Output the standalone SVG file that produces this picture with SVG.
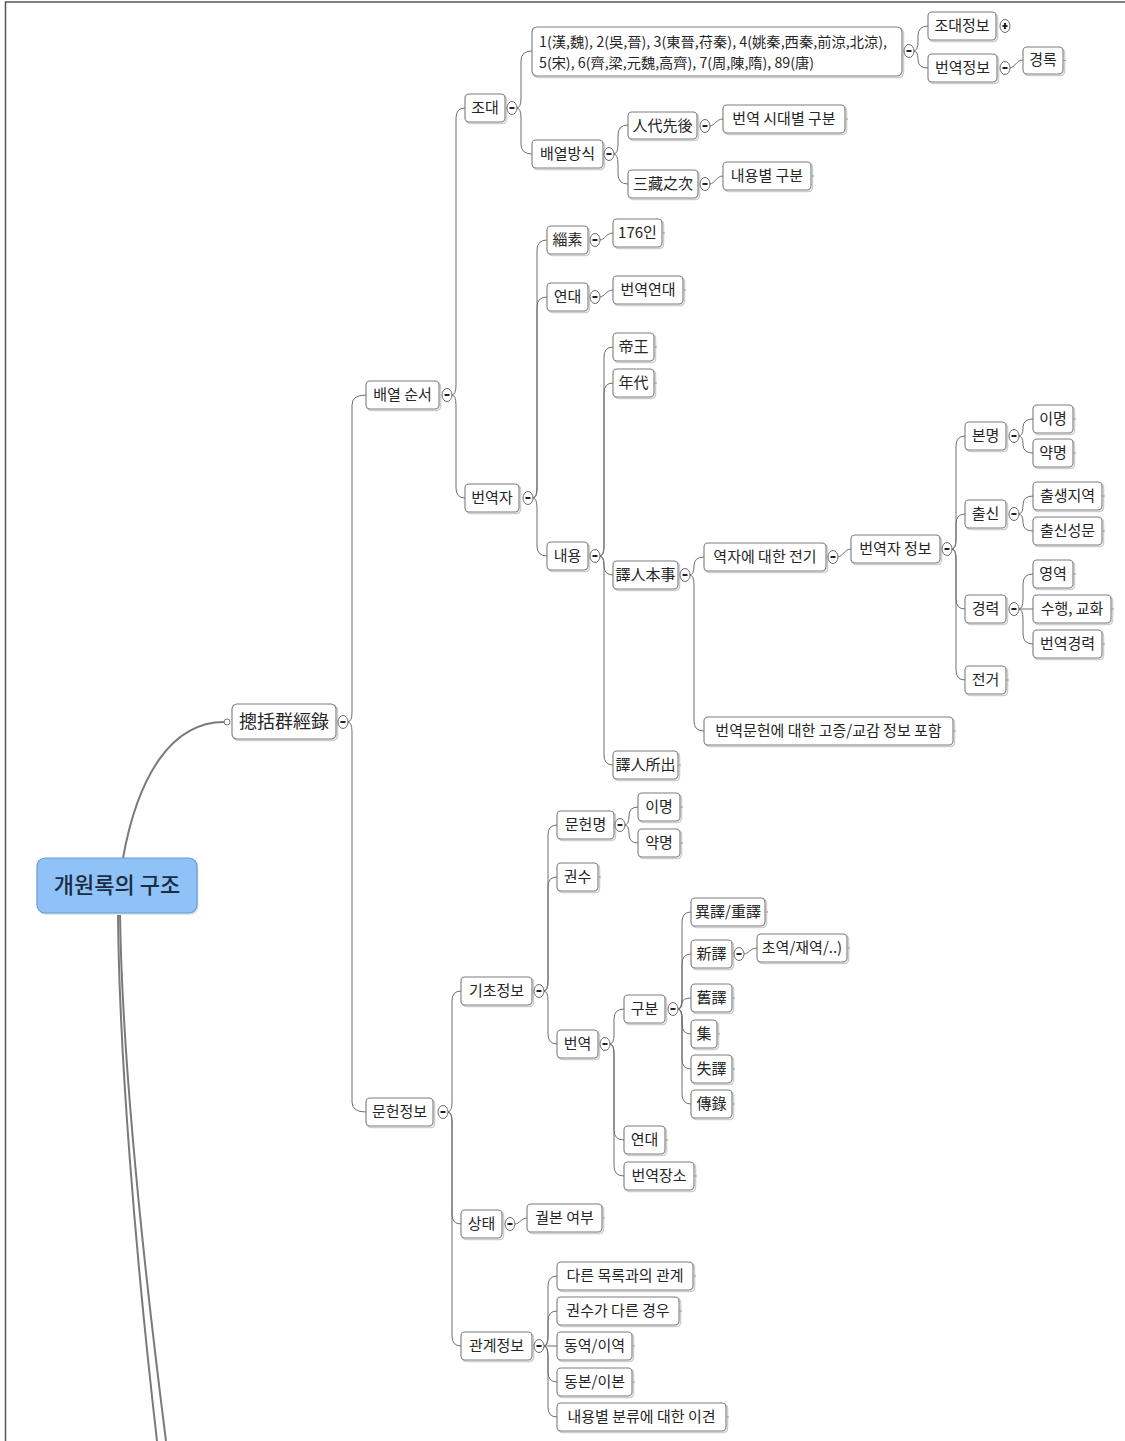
<svg xmlns="http://www.w3.org/2000/svg" width="1125" height="1441" viewBox="0 0 1125 1441">
<style>
.bx{fill:#fff;stroke:#7c7c7c;stroke-width:1.1}
.sh{fill:none;stroke:#cfcfcf;stroke-width:1.6}
.t{font-family:"Noto Sans CJK KR","Noto Sans",sans-serif;font-size:15px;fill:#262626;text-anchor:middle}
.tl{font-family:"Noto Sans CJK KR","Noto Sans",sans-serif;font-size:14px;fill:#262626}
.cc{fill:#fff;stroke:#6a6a6a;stroke-width:1}
.mn{stroke:#222;stroke-width:2}
.tk{stroke:#999;stroke-width:1}
.ln{fill:none;stroke:#6e6e6e;stroke-width:1}
.rl{fill:none;stroke:#7a7a7a;stroke-width:2}
</style>
<rect width="1125" height="1441" fill="#fff"/>
<path d="M5.5 1441 V2 H1125" fill="none" stroke="#555" stroke-width="1.5"/>

<g id="connectors">
<path class="rl" d="M123 858 C138 775 172 722 224 722"/>
<circle cx="227" cy="722" r="3" fill="#fff" stroke="#777" stroke-width="1"/>
<path class="rl" d="M118 913 C119 1050 135 1250 157 1441"/>
<path class="rl" d="M120 913 C122 1060 143 1260 166 1441"/>
<path class="ln" d="M347.5 722 Q352 722 352 712 V405 Q352 395 366 395"/>
<path class="ln" d="M347.5 722 Q352 722 352 732 V1102 Q352 1112 366 1112"/>
<path class="ln" d="M451.5 395 Q456 395 456 385 V118 Q456 108 465 108"/>
<path class="ln" d="M451.5 395 Q456 395 456 405 V488 Q456 498 465 498"/>
<path class="ln" d="M516.5 108 Q521 108 521 98 V61 Q521 51 532 51"/>
<path class="ln" d="M516.5 108 Q521 108 521 118 V144 Q521 154 532 154"/>
<path class="ln" d="M913.5 51 Q918 51 918 41 V36 Q918 26 928 26"/>
<path class="ln" d="M913.5 51 Q918 51 918 59.5 Q918 68 928 68"/>
<path class="ln" d="M1009.5 68 C1015 68 1016 60 1023 60"/>
<path class="ln" d="M613.5 154 Q618 154 618 144 V135 Q618 125 628 125"/>
<path class="ln" d="M613.5 154 Q618 154 618 164 V174 Q618 184 628 184"/>
<path class="ln" d="M709.5 126 C715 126 716 119 723 119"/>
<path class="ln" d="M709.5 184 C715 184 716 176 723 176"/>
<path class="ln" d="M532.5 498 Q537 498 537 488 V250 Q537 240 547 240"/>
<path class="ln" d="M532.5 498 Q537 498 537 488 V307 Q537 297 547 297"/>
<path class="ln" d="M532.5 498 Q537 498 537 508 V546 Q537 556 547 556"/>
<path class="ln" d="M599.5 240 C605 240 606 233 613 233"/>
<path class="ln" d="M599.5 297 C605 297 606 290 613 290"/>
<path class="ln" d="M599.5 556 Q604 556 604 546 V357 Q604 347 613 347"/>
<path class="ln" d="M599.5 556 Q604 556 604 546 V393 Q604 383 613 383"/>
<path class="ln" d="M599.5 556 Q604 556 604 565.5 Q604 575 613 575"/>
<path class="ln" d="M599.5 556 Q604 556 604 566 V755 Q604 765 613 765"/>
<path class="ln" d="M689.5 575 Q694 575 694 566 Q694 557 704 557"/>
<path class="ln" d="M689.5 575 Q694 575 694 585 V721 Q694 731 704 731"/>
<path class="ln" d="M837.5 557 C843 557 844 549 851 549"/>
<path class="ln" d="M951.5 549 Q956 549 956 539 V446 Q956 436 965 436"/>
<path class="ln" d="M951.5 549 Q956 549 956 539 V524 Q956 514 965 514"/>
<path class="ln" d="M951.5 549 Q956 549 956 559 V599 Q956 609 965 609"/>
<path class="ln" d="M951.5 549 Q956 549 956 559 V670 Q956 680 965 680"/>
<path class="ln" d="M1018.5 436 Q1023 436 1023 427.5 Q1023 419 1033 419"/>
<path class="ln" d="M1018.5 436 Q1023 436 1023 444.5 Q1023 453 1033 453"/>
<path class="ln" d="M1018.5 514 Q1023 514 1023 505 Q1023 496 1033 496"/>
<path class="ln" d="M1018.5 514 Q1023 514 1023 522.5 Q1023 531 1033 531"/>
<path class="ln" d="M1018.5 609 Q1023 609 1023 599 V584 Q1023 574 1033 574"/>
<path class="ln" d="M1018.5 609 H1033"/>
<path class="ln" d="M1018.5 609 Q1023 609 1023 619 V634 Q1023 644 1033 644"/>
<path class="ln" d="M447.5 1112 Q452 1112 452 1102 V1001 Q452 991 461 991"/>
<path class="ln" d="M447.5 1112 Q452 1112 452 1122 V1214 Q452 1224 461 1224"/>
<path class="ln" d="M447.5 1112 Q452 1112 452 1122 V1336 Q452 1346 461 1346"/>
<path class="ln" d="M543.5 991 Q548 991 548 981 V835 Q548 825 557 825"/>
<path class="ln" d="M543.5 991 Q548 991 548 981 V887 Q548 877 557 877"/>
<path class="ln" d="M543.5 991 Q548 991 548 1001 V1034 Q548 1044 557 1044"/>
<path class="ln" d="M624.5 825 Q629 825 629 816 Q629 807 638 807"/>
<path class="ln" d="M624.5 825 Q629 825 629 834 Q629 843 638 843"/>
<path class="ln" d="M609.5 1044 Q614 1044 614 1034 V1019 Q614 1009 624 1009"/>
<path class="ln" d="M609.5 1044 Q614 1044 614 1054 V1130 Q614 1140 624 1140"/>
<path class="ln" d="M609.5 1044 Q614 1044 614 1054 V1166 Q614 1176 624 1176"/>
<path class="ln" d="M677.5 1009 Q682 1009 682 999 V922 Q682 912 691 912"/>
<path class="ln" d="M677.5 1009 Q682 1009 682 999 V964 Q682 954 691 954"/>
<path class="ln" d="M677.5 1009 Q682 1009 682 1003.5 Q682 998 691 998"/>
<path class="ln" d="M677.5 1009 Q682 1009 682 1019 V1024 Q682 1034 691 1034"/>
<path class="ln" d="M677.5 1009 Q682 1009 682 1019 V1059 Q682 1069 691 1069"/>
<path class="ln" d="M677.5 1009 Q682 1009 682 1019 V1094 Q682 1104 691 1104"/>
<path class="ln" d="M743.5 954 C749 954 750 948 757 948"/>
<path class="ln" d="M514.5 1224 C520 1224 521 1218 527 1218"/>
<path class="ln" d="M543.5 1346 Q548 1346 548 1336 V1286 Q548 1276 557 1276"/>
<path class="ln" d="M543.5 1346 Q548 1346 548 1336 V1321 Q548 1311 557 1311"/>
<path class="ln" d="M543.5 1346 H557"/>
<path class="ln" d="M543.5 1346 Q548 1346 548 1356 V1372 Q548 1382 557 1382"/>
<path class="ln" d="M543.5 1346 Q548 1346 548 1356 V1407 Q548 1417 557 1417"/>
</g>

<g id="root">
<rect x="38.5" y="860" width="160" height="55" rx="8" fill="#d9e6f5"/>
<rect x="37" y="858" width="160" height="55" rx="8" fill="#8fc2f6" stroke="#6c9ad0" stroke-width="1.2"/>
<text x="117" y="893" font-family="'Noto Sans CJK KR','Noto Sans',sans-serif" font-size="22" font-weight="500" fill="#1a2c44" text-anchor="middle">개원록의 구조</text>
</g>

<g id="n-chonggwal">
<rect class="sh" x="233.5" y="705.5" width="104" height="35" rx="5"/>
<rect class="bx" x="232" y="704" width="104" height="35" rx="5"/>
<text x="284" y="728" class="t" style="font-size:18px">摠括群經錄</text>
<ellipse class="cc" cx="343" cy="722" rx="5" ry="6.5"/><line class="mn" x1="340.5" y1="722" x2="345.5" y2="722"/>
</g>

<g id="n-baeyeol">
<rect class="sh" x="367.5" y="382.5" width="73" height="28" rx="4"/>
<rect class="bx" x="366" y="381" width="73" height="28" rx="4"/>
<text x="402.5" y="400" class="t">배열 순서</text>
<ellipse class="cc" cx="447" cy="395" rx="5" ry="6.5"/><line class="mn" x1="444.5" y1="395" x2="449.5" y2="395"/>
</g>

<g id="n-munheon">
<rect class="sh" x="367.5" y="1099.5" width="67" height="28" rx="4"/>
<rect class="bx" x="366" y="1098" width="67" height="28" rx="4"/>
<text x="399.5" y="1117" class="t">문헌정보</text>
<ellipse class="cc" cx="443" cy="1112" rx="5" ry="6.5"/><line class="mn" x1="440.5" y1="1112" x2="445.5" y2="1112"/>
</g>

<g id="n-jodae">
<rect class="sh" x="466.5" y="95.5" width="40" height="28" rx="4"/>
<rect class="bx" x="465" y="94" width="40" height="28" rx="4"/>
<text x="485" y="113" class="t">조대</text>
<ellipse class="cc" cx="512" cy="108" rx="5" ry="6.5"/><line class="mn" x1="509.5" y1="108" x2="514.5" y2="108"/>
</g>

<g id="n-beonyeokja">
<rect class="sh" x="466.5" y="485.5" width="54" height="28" rx="4"/>
<rect class="bx" x="465" y="484" width="54" height="28" rx="4"/>
<text x="492" y="503" class="t">번역자</text>
<ellipse class="cc" cx="528" cy="498" rx="5" ry="6.5"/><line class="mn" x1="525.5" y1="498" x2="530.5" y2="498"/>
</g>

<g id="n-dynasties">
<rect class="sh" x="533.5" y="28.5" width="370" height="49" rx="5"/>
<rect class="bx" x="532" y="27" width="370" height="49" rx="5"/>
<text x="539" y="47" class="tl" textLength="348" lengthAdjust="spacingAndGlyphs">1(漢,魏), 2(吳,晉), 3(東晉,苻秦), 4(姚秦,西秦,前涼,北涼),</text>
<text x="539" y="68" class="tl" textLength="275" lengthAdjust="spacingAndGlyphs">5(宋), 6(齊,梁,元魏,高齊), 7(周,陳,隋), 89(唐)</text>
<ellipse class="cc" cx="909" cy="51" rx="5" ry="6.5"/><line class="mn" x1="906.5" y1="51" x2="911.5" y2="51"/>
</g>

<g id="n-baeyeolbangsik">
<rect class="sh" x="533.5" y="141.5" width="71" height="28" rx="4"/>
<rect class="bx" x="532" y="140" width="71" height="28" rx="4"/>
<text x="567.5" y="159" class="t">배열방식</text>
<ellipse class="cc" cx="609" cy="154" rx="5" ry="6.5"/><line class="mn" x1="606.5" y1="154" x2="611.5" y2="154"/>
</g>

<g id="n-jodaejeongbo">
<rect class="sh" x="929.5" y="13.5" width="68" height="28" rx="4"/>
<rect class="bx" x="928" y="12" width="68" height="28" rx="4"/>
<text x="962" y="31" class="t">조대정보</text>
<ellipse class="cc" cx="1005" cy="26" rx="5" ry="6.5"/><line class="mn" x1="1002.5" y1="26" x2="1007.5" y2="26"/><line class="mn" x1="1005" y1="23" x2="1005" y2="29"/>
</g>

<g id="n-beonyeokjeongbo">
<rect class="sh" x="929.5" y="55.5" width="69" height="28" rx="4"/>
<rect class="bx" x="928" y="54" width="69" height="28" rx="4"/>
<text x="962.5" y="73" class="t">번역정보</text>
<ellipse class="cc" cx="1005" cy="68" rx="5" ry="6.5"/><line class="mn" x1="1002.5" y1="68" x2="1007.5" y2="68"/>
</g>

<g id="n-gyeongrok">
<rect class="sh" x="1024.5" y="48.5" width="40" height="27" rx="4"/>
<rect class="bx" x="1023" y="47" width="40" height="27" rx="4"/>
<text x="1043" y="65" class="t">경록</text>
<line class="tk" x1="1063" y1="60.5" x2="1066" y2="60.5"/>
</g>

<g id="n-indaeseonhu">
<rect class="sh" x="629.5" y="113.5" width="69" height="27" rx="4"/>
<rect class="bx" x="628" y="112" width="69" height="27" rx="4"/>
<text x="662.5" y="131" class="t">人代先後</text>
<ellipse class="cc" cx="705" cy="126" rx="5" ry="6.5"/><line class="mn" x1="702.5" y1="126" x2="707.5" y2="126"/>
</g>

<g id="n-sidaebyeol">
<rect class="sh" x="724.5" y="106.5" width="122" height="28" rx="4"/>
<rect class="bx" x="723" y="105" width="122" height="28" rx="4"/>
<text x="784" y="124" class="t">번역 시대별 구분</text>
<line class="tk" x1="845" y1="119" x2="848" y2="119"/>
</g>

<g id="n-samjang">
<rect class="sh" x="629.5" y="171.5" width="70" height="28" rx="4"/>
<rect class="bx" x="628" y="170" width="70" height="28" rx="4"/>
<text x="663" y="189" class="t">三藏之次</text>
<ellipse class="cc" cx="705" cy="184" rx="5" ry="6.5"/><line class="mn" x1="702.5" y1="184" x2="707.5" y2="184"/>
</g>

<g id="n-naeyongbyeol">
<rect class="sh" x="724.5" y="163.5" width="88" height="28" rx="4"/>
<rect class="bx" x="723" y="162" width="88" height="28" rx="4"/>
<text x="767" y="181" class="t">내용별 구분</text>
<line class="tk" x1="811" y1="176" x2="814" y2="176"/>
</g>

<g id="n-chiso">
<rect class="sh" x="548.5" y="227.5" width="41" height="28" rx="4"/>
<rect class="bx" x="547" y="226" width="41" height="28" rx="4"/>
<text x="567.5" y="245" class="t">緇素</text>
<ellipse class="cc" cx="595" cy="240" rx="5" ry="6.5"/><line class="mn" x1="592.5" y1="240" x2="597.5" y2="240"/>
</g>

<g id="n-176">
<rect class="sh" x="614.5" y="220.5" width="49" height="28" rx="4"/>
<rect class="bx" x="613" y="219" width="49" height="28" rx="4"/>
<text x="637.5" y="238" class="t">176인</text>
<line class="tk" x1="662" y1="233" x2="665" y2="233"/>
</g>

<g id="n-yeondae1">
<rect class="sh" x="548.5" y="284.5" width="41" height="28" rx="4"/>
<rect class="bx" x="547" y="283" width="41" height="28" rx="4"/>
<text x="567.5" y="302" class="t">연대</text>
<ellipse class="cc" cx="595" cy="297" rx="5" ry="6.5"/><line class="mn" x1="592.5" y1="297" x2="597.5" y2="297"/>
</g>

<g id="n-beonyeokyeondae">
<rect class="sh" x="614.5" y="277.5" width="70" height="28" rx="4"/>
<rect class="bx" x="613" y="276" width="70" height="28" rx="4"/>
<text x="648" y="295" class="t">번역연대</text>
<line class="tk" x1="683" y1="290" x2="686" y2="290"/>
</g>

<g id="n-naeyong">
<rect class="sh" x="548.5" y="543.5" width="41" height="28" rx="4"/>
<rect class="bx" x="547" y="542" width="41" height="28" rx="4"/>
<text x="567.5" y="561" class="t">내용</text>
<ellipse class="cc" cx="595" cy="556" rx="5" ry="6.5"/><line class="mn" x1="592.5" y1="556" x2="597.5" y2="556"/>
</g>

<g id="n-jewang">
<rect class="sh" x="614.5" y="334.5" width="41" height="28" rx="4"/>
<rect class="bx" x="613" y="333" width="41" height="28" rx="4"/>
<text x="633.5" y="352" class="t">帝王</text>
<line class="tk" x1="654" y1="347" x2="657" y2="347"/>
</g>

<g id="n-nyeondae">
<rect class="sh" x="614.5" y="370.5" width="41" height="28" rx="4"/>
<rect class="bx" x="613" y="369" width="41" height="28" rx="4"/>
<text x="633.5" y="388" class="t">年代</text>
<line class="tk" x1="654" y1="383" x2="657" y2="383"/>
</g>

<g id="n-yeokinbonsa">
<rect class="sh" x="614.5" y="562.5" width="65" height="28" rx="4"/>
<rect class="bx" x="613" y="561" width="65" height="28" rx="4"/>
<text x="645.5" y="580" class="t">譯人本事</text>
<ellipse class="cc" cx="685" cy="575" rx="5" ry="6.5"/><line class="mn" x1="682.5" y1="575" x2="687.5" y2="575"/>
</g>

<g id="n-yeokinsochul">
<rect class="sh" x="614.5" y="752.5" width="65" height="28" rx="4"/>
<rect class="bx" x="613" y="751" width="65" height="28" rx="4"/>
<text x="645.5" y="770" class="t">譯人所出</text>
<line class="tk" x1="678" y1="765" x2="681" y2="765"/>
</g>

<g id="n-jeongi">
<rect class="sh" x="705.5" y="544.5" width="122" height="28" rx="4"/>
<rect class="bx" x="704" y="543" width="122" height="28" rx="4"/>
<text x="765" y="562" class="t">역자에 대한 전기</text>
<ellipse class="cc" cx="833" cy="557" rx="5" ry="6.5"/><line class="mn" x1="830.5" y1="557" x2="835.5" y2="557"/>
</g>

<g id="n-gojeung">
<rect class="sh" x="705.5" y="718.5" width="249" height="28" rx="4"/>
<rect class="bx" x="704" y="717" width="249" height="28" rx="4"/>
<text x="828.5" y="736" class="t">번역문헌에 대한 고증/교감 정보 포함</text>
<line class="tk" x1="953" y1="731" x2="956" y2="731"/>
</g>

<g id="n-beonyeokjajeongbo">
<rect class="sh" x="852.5" y="536.5" width="89" height="28" rx="4"/>
<rect class="bx" x="851" y="535" width="89" height="28" rx="4"/>
<text x="895.5" y="554" class="t">번역자 정보</text>
<ellipse class="cc" cx="947" cy="549" rx="5" ry="6.5"/><line class="mn" x1="944.5" y1="549" x2="949.5" y2="549"/>
</g>

<g id="n-bonmyeong">
<rect class="sh" x="966.5" y="423.5" width="41" height="28" rx="4"/>
<rect class="bx" x="965" y="422" width="41" height="28" rx="4"/>
<text x="985.5" y="441" class="t">본명</text>
<ellipse class="cc" cx="1014" cy="436" rx="5" ry="6.5"/><line class="mn" x1="1011.5" y1="436" x2="1016.5" y2="436"/>
</g>

<g id="n-imyeong1">
<rect class="sh" x="1034.5" y="406.5" width="40" height="28" rx="4"/>
<rect class="bx" x="1033" y="405" width="40" height="28" rx="4"/>
<text x="1053" y="424" class="t">이명</text>
<line class="tk" x1="1073" y1="419" x2="1076" y2="419"/>
</g>

<g id="n-yakmyeong1">
<rect class="sh" x="1034.5" y="440.5" width="40" height="28" rx="4"/>
<rect class="bx" x="1033" y="439" width="40" height="28" rx="4"/>
<text x="1053" y="458" class="t">약명</text>
<line class="tk" x1="1073" y1="453" x2="1076" y2="453"/>
</g>

<g id="n-chulsin">
<rect class="sh" x="966.5" y="501.5" width="41" height="28" rx="4"/>
<rect class="bx" x="965" y="500" width="41" height="28" rx="4"/>
<text x="985.5" y="519" class="t">출신</text>
<ellipse class="cc" cx="1014" cy="514" rx="5" ry="6.5"/><line class="mn" x1="1011.5" y1="514" x2="1016.5" y2="514"/>
</g>

<g id="n-chulsaeng">
<rect class="sh" x="1034.5" y="483.5" width="69" height="28" rx="4"/>
<rect class="bx" x="1033" y="482" width="69" height="28" rx="4"/>
<text x="1067.5" y="501" class="t">출생지역</text>
<line class="tk" x1="1102" y1="496" x2="1105" y2="496"/>
</g>

<g id="n-chulsinseongmun">
<rect class="sh" x="1034.5" y="518.5" width="69" height="28" rx="4"/>
<rect class="bx" x="1033" y="517" width="69" height="28" rx="4"/>
<text x="1067.5" y="536" class="t">출신성문</text>
<line class="tk" x1="1102" y1="531" x2="1105" y2="531"/>
</g>

<g id="n-gyeongryeok">
<rect class="sh" x="966.5" y="596.5" width="41" height="28" rx="4"/>
<rect class="bx" x="965" y="595" width="41" height="28" rx="4"/>
<text x="985.5" y="614" class="t">경력</text>
<ellipse class="cc" cx="1014" cy="609" rx="5" ry="6.5"/><line class="mn" x1="1011.5" y1="609" x2="1016.5" y2="609"/>
</g>

<g id="n-yeongyeok">
<rect class="sh" x="1034.5" y="561.5" width="40" height="28" rx="4"/>
<rect class="bx" x="1033" y="560" width="40" height="28" rx="4"/>
<text x="1053" y="579" class="t">영역</text>
<line class="tk" x1="1073" y1="574" x2="1076" y2="574"/>
</g>

<g id="n-suhaeng">
<rect class="sh" x="1034.5" y="596.5" width="78" height="28" rx="4"/>
<rect class="bx" x="1033" y="595" width="78" height="28" rx="4"/>
<text x="1072" y="614" class="t">수행, 교화</text>
<line class="tk" x1="1111" y1="609" x2="1114" y2="609"/>
</g>

<g id="n-beonyeokgyeongryeok">
<rect class="sh" x="1034.5" y="631.5" width="69" height="28" rx="4"/>
<rect class="bx" x="1033" y="630" width="69" height="28" rx="4"/>
<text x="1067.5" y="649" class="t">번역경력</text>
<line class="tk" x1="1102" y1="644" x2="1105" y2="644"/>
</g>

<g id="n-jeongeo">
<rect class="sh" x="966.5" y="667.5" width="41" height="28" rx="4"/>
<rect class="bx" x="965" y="666" width="41" height="28" rx="4"/>
<text x="985.5" y="685" class="t">전거</text>
<line class="tk" x1="1006" y1="680" x2="1009" y2="680"/>
</g>

<g id="n-gicho">
<rect class="sh" x="462.5" y="978.5" width="71" height="28" rx="4"/>
<rect class="bx" x="461" y="977" width="71" height="28" rx="4"/>
<text x="496.5" y="996" class="t">기초정보</text>
<ellipse class="cc" cx="539" cy="991" rx="5" ry="6.5"/><line class="mn" x1="536.5" y1="991" x2="541.5" y2="991"/>
</g>

<g id="n-munheonmyeong">
<rect class="sh" x="558.5" y="812.5" width="57" height="28" rx="4"/>
<rect class="bx" x="557" y="811" width="57" height="28" rx="4"/>
<text x="585.5" y="830" class="t">문헌명</text>
<ellipse class="cc" cx="620" cy="825" rx="5" ry="6.5"/><line class="mn" x1="617.5" y1="825" x2="622.5" y2="825"/>
</g>

<g id="n-imyeong2">
<rect class="sh" x="639.5" y="794.5" width="42" height="28" rx="4"/>
<rect class="bx" x="638" y="793" width="42" height="28" rx="4"/>
<text x="659" y="812" class="t">이명</text>
<line class="tk" x1="680" y1="807" x2="683" y2="807"/>
</g>

<g id="n-yakmyeong2">
<rect class="sh" x="639.5" y="830.5" width="42" height="28" rx="4"/>
<rect class="bx" x="638" y="829" width="42" height="28" rx="4"/>
<text x="659" y="848" class="t">약명</text>
<line class="tk" x1="680" y1="843" x2="683" y2="843"/>
</g>

<g id="n-gwonsu">
<rect class="sh" x="558.5" y="864.5" width="41" height="28" rx="4"/>
<rect class="bx" x="557" y="863" width="41" height="28" rx="4"/>
<text x="577.5" y="882" class="t">권수</text>
<line class="tk" x1="598" y1="877" x2="601" y2="877"/>
</g>

<g id="n-beonyeok">
<rect class="sh" x="558.5" y="1031.5" width="41" height="28" rx="4"/>
<rect class="bx" x="557" y="1030" width="41" height="28" rx="4"/>
<text x="577.5" y="1049" class="t">번역</text>
<ellipse class="cc" cx="605" cy="1044" rx="5" ry="6.5"/><line class="mn" x1="602.5" y1="1044" x2="607.5" y2="1044"/>
</g>

<g id="n-gubun">
<rect class="sh" x="625.5" y="996.5" width="41" height="28" rx="4"/>
<rect class="bx" x="624" y="995" width="41" height="28" rx="4"/>
<text x="644.5" y="1014" class="t">구분</text>
<ellipse class="cc" cx="673" cy="1009" rx="5" ry="6.5"/><line class="mn" x1="670.5" y1="1009" x2="675.5" y2="1009"/>
</g>

<g id="n-iyeok">
<rect class="sh" x="692.5" y="899.5" width="74" height="28" rx="4"/>
<rect class="bx" x="691" y="898" width="74" height="28" rx="4"/>
<text x="728" y="917" class="t">異譯/重譯</text>
<line class="tk" x1="765" y1="912" x2="768" y2="912"/>
</g>

<g id="n-sinyeok">
<rect class="sh" x="692.5" y="941.5" width="41" height="28" rx="4"/>
<rect class="bx" x="691" y="940" width="41" height="28" rx="4"/>
<text x="711.5" y="959" class="t">新譯</text>
<ellipse class="cc" cx="739" cy="954" rx="5" ry="6.5"/><line class="mn" x1="736.5" y1="954" x2="741.5" y2="954"/>
</g>

<g id="n-choyeok">
<rect class="sh" x="758.5" y="935.5" width="90" height="28" rx="4"/>
<rect class="bx" x="757" y="934" width="90" height="28" rx="4"/>
<text x="802" y="953" class="t">초역/재역/..)</text>
<line class="tk" x1="847" y1="948" x2="850" y2="948"/>
</g>

<g id="n-guyeok">
<rect class="sh" x="692.5" y="985.5" width="41" height="28" rx="4"/>
<rect class="bx" x="691" y="984" width="41" height="28" rx="4"/>
<text x="711.5" y="1003" class="t">舊譯</text>
<line class="tk" x1="732" y1="998" x2="735" y2="998"/>
</g>

<g id="n-jip">
<rect class="sh" x="692.5" y="1021.5" width="26" height="28" rx="4"/>
<rect class="bx" x="691" y="1020" width="26" height="28" rx="4"/>
<text x="704" y="1039" class="t">集</text>
<line class="tk" x1="717" y1="1034" x2="720" y2="1034"/>
</g>

<g id="n-silyeok">
<rect class="sh" x="692.5" y="1056.5" width="41" height="28" rx="4"/>
<rect class="bx" x="691" y="1055" width="41" height="28" rx="4"/>
<text x="711.5" y="1074" class="t">失譯</text>
<line class="tk" x1="732" y1="1069" x2="735" y2="1069"/>
</g>

<g id="n-jeonrok">
<rect class="sh" x="692.5" y="1091.5" width="41" height="28" rx="4"/>
<rect class="bx" x="691" y="1090" width="41" height="28" rx="4"/>
<text x="711.5" y="1109" class="t">傳錄</text>
<line class="tk" x1="732" y1="1104" x2="735" y2="1104"/>
</g>

<g id="n-yeondae2">
<rect class="sh" x="625.5" y="1127.5" width="41" height="28" rx="4"/>
<rect class="bx" x="624" y="1126" width="41" height="28" rx="4"/>
<text x="644.5" y="1145" class="t">연대</text>
<line class="tk" x1="665" y1="1140" x2="668" y2="1140"/>
</g>

<g id="n-jangso">
<rect class="sh" x="625.5" y="1163.5" width="70" height="28" rx="4"/>
<rect class="bx" x="624" y="1162" width="70" height="28" rx="4"/>
<text x="659" y="1181" class="t">번역장소</text>
<line class="tk" x1="694" y1="1176" x2="697" y2="1176"/>
</g>

<g id="n-sangtae">
<rect class="sh" x="462.5" y="1211.5" width="41" height="28" rx="4"/>
<rect class="bx" x="461" y="1210" width="41" height="28" rx="4"/>
<text x="481.5" y="1229" class="t">상태</text>
<ellipse class="cc" cx="510" cy="1224" rx="5" ry="6.5"/><line class="mn" x1="507.5" y1="1224" x2="512.5" y2="1224"/>
</g>

<g id="n-gwolbon">
<rect class="sh" x="528.5" y="1205.5" width="75" height="28" rx="4"/>
<rect class="bx" x="527" y="1204" width="75" height="28" rx="4"/>
<text x="564.5" y="1223" class="t">궐본 여부</text>
<line class="tk" x1="602" y1="1218" x2="605" y2="1218"/>
</g>

<g id="n-gwangye">
<rect class="sh" x="462.5" y="1333.5" width="71" height="28" rx="4"/>
<rect class="bx" x="461" y="1332" width="71" height="28" rx="4"/>
<text x="496.5" y="1351" class="t">관계정보</text>
<ellipse class="cc" cx="539" cy="1346" rx="5" ry="6.5"/><line class="mn" x1="536.5" y1="1346" x2="541.5" y2="1346"/>
</g>

<g id="n-mokrok">
<rect class="sh" x="558.5" y="1263.5" width="136" height="28" rx="4"/>
<rect class="bx" x="557" y="1262" width="136" height="28" rx="4"/>
<text x="625" y="1281" class="t">다른 목록과의 관계</text>
<line class="tk" x1="693" y1="1276" x2="696" y2="1276"/>
</g>

<g id="n-gwonsudareun">
<rect class="sh" x="558.5" y="1298.5" width="122" height="28" rx="4"/>
<rect class="bx" x="557" y="1297" width="122" height="28" rx="4"/>
<text x="618" y="1316" class="t">권수가 다른 경우</text>
<line class="tk" x1="679" y1="1311" x2="682" y2="1311"/>
</g>

<g id="n-dongyeok">
<rect class="sh" x="558.5" y="1333.5" width="75" height="28" rx="4"/>
<rect class="bx" x="557" y="1332" width="75" height="28" rx="4"/>
<text x="594.5" y="1351" class="t">동역/이역</text>
<line class="tk" x1="632" y1="1346" x2="635" y2="1346"/>
</g>

<g id="n-dongbon">
<rect class="sh" x="558.5" y="1369.5" width="75" height="28" rx="4"/>
<rect class="bx" x="557" y="1368" width="75" height="28" rx="4"/>
<text x="594.5" y="1387" class="t">동본/이본</text>
<line class="tk" x1="632" y1="1382" x2="635" y2="1382"/>
</g>

<g id="n-igyeon">
<rect class="sh" x="558.5" y="1404.5" width="169" height="28" rx="4"/>
<rect class="bx" x="557" y="1403" width="169" height="28" rx="4"/>
<text x="641.5" y="1422" class="t">내용별 분류에 대한 이견</text>
<line class="tk" x1="726" y1="1417" x2="729" y2="1417"/>
</g>
</svg>
